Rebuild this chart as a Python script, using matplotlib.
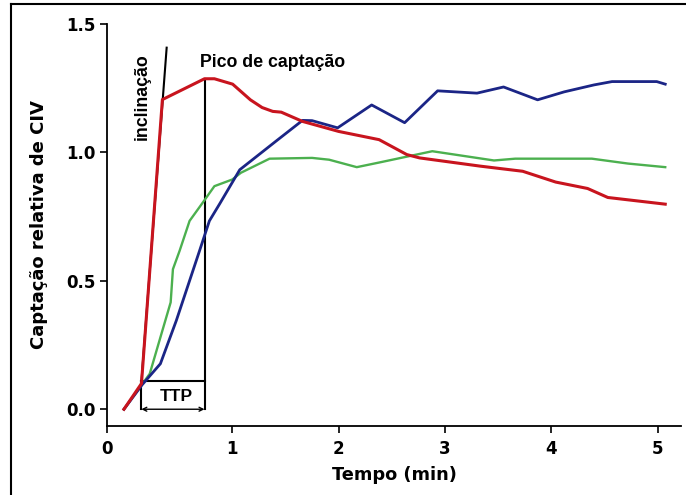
import numpy as np
import matplotlib
matplotlib.use("Agg")
import matplotlib.pyplot as plt
from matplotlib.lines import Line2D

plt.rcParams['font.family'] = ['Liberation Sans', 'DejaVu Sans']

# ---- data ----
red_x = [0.135, 0.275, 0.442, 0.778, 0.857, 1.003, 1.17, 1.28, 1.38, 1.46, 1.66, 2.0, 2.38, 2.64, 2.76, 3.33, 3.73, 4.04, 4.34, 4.53, 5.07]
red_y = [0.0, 0.10, 1.205, 1.286, 1.286, 1.265, 1.204, 1.174, 1.159, 1.156, 1.12, 1.081, 1.049, 0.991, 0.978, 0.946, 0.926, 0.884, 0.859, 0.824, 0.798]

blue_x = [0.135, 0.28, 0.426, 0.553, 0.738, 0.817, 0.90, 1.07, 1.41, 1.66, 1.75, 1.99, 2.31, 2.62, 2.93, 3.30, 3.55, 3.87, 4.12, 4.40, 4.57, 4.99, 5.07]
blue_y = [0.0, 0.095, 0.177, 0.345, 0.616, 0.733, 0.80, 0.932, 1.043, 1.124, 1.123, 1.095, 1.184, 1.115, 1.239, 1.230, 1.254, 1.204, 1.235, 1.262, 1.275, 1.275, 1.265]

green_x = [0.135, 0.341, 0.434, 0.508, 0.526, 0.579, 0.659, 0.764, 0.857, 1.0, 1.08, 1.35, 1.75, 1.91, 2.17, 2.38, 2.88, 3.46, 3.66, 4.38, 4.72, 5.07]
green_y = [0.0, 0.138, 0.293, 0.416, 0.545, 0.616, 0.733, 0.804, 0.868, 0.894, 0.92, 0.975, 0.978, 0.971, 0.942, 0.96, 1.004, 0.968, 0.975, 0.975, 0.956, 0.942]

slope_x = [0.274, 0.476]
slope_y = [0.105, 1.407]
onset_x = 0.274
peak_x = 0.778
peak_y = 1.286
ttp_box_y = 0.108

x_ticks = [0, 1, 2, 3, 4, 5]
x_ticklabels = ["0", "1", "2", "3", "4", "5"]
y_ticks = [0.0, 0.5, 1.0, 1.5]
y_ticklabels = ["0.0", "0.5", "1.0", "1.5"]

# ---- figure ----
fig = plt.figure(figsize=(6.86, 4.95), dpi=100)
ax = fig.add_axes([0.156, 0.139, 0.837, 0.813])

K = 1.178
def fwd(x):
    x = np.asarray(x, dtype=float)
    return np.where(x < 1, x * K, x + (K - 1))
def inv(y):
    y = np.asarray(y, dtype=float)
    return np.where(y < K, y / K, y - (K - 1))
ax.set_xscale('function', functions=(fwd, inv))

ax.plot(green_x, green_y, color='#4cb04f', lw=1.7, solid_joinstyle='round', zorder=3)
ax.plot(blue_x, blue_y, color='#1b2586', lw=2.0, solid_joinstyle='round', zorder=4)
ax.plot(red_x, red_y, color='#c8141e', lw=2.2, solid_joinstyle='round', zorder=5)

# annotation lines
ax.plot(slope_x, slope_y, color='black', lw=1.5, zorder=2)
ax.plot([peak_x, peak_x], [0, peak_y], color='black', lw=1.5, zorder=2)
ax.plot([onset_x, peak_x], [ttp_box_y, ttp_box_y], color='black', lw=1.5, zorder=2)
ax.plot([onset_x, onset_x], [0, ttp_box_y], color='black', lw=1.5, zorder=2)
ax.annotate('', xy=(onset_x, 0.0), xytext=(peak_x, 0.0),
            arrowprops=dict(arrowstyle='<->', lw=1.0, color='black',
                            shrinkA=0, shrinkB=0, mutation_scale=7))

ann_font = ['Liberation Sans', 'DejaVu Sans']
ax.text(0.553, 0.05, 'TTP', fontsize=12.5, fontweight='bold', ha='center', va='center', family=ann_font)
ax.text(0.745, 1.35, 'Pico de captação', fontsize=12.8, fontweight='bold', ha='left', va='center', family=ann_font)
ax.text(0.278, 1.215, 'inclinação', fontsize=12.8, fontweight='bold', ha='center', va='center', rotation=90, family=ann_font)

ax.set_xlim(0, 5.22)
ax.set_ylim(-0.066, 1.5)
ax.set_xticks(x_ticks)
ax.set_xticklabels(x_ticklabels)
ax.set_yticks(y_ticks)
ax.set_yticklabels(y_ticklabels)
ax.minorticks_off()

for s in ['top', 'right']:
    ax.spines[s].set_visible(False)
for s in ['left', 'bottom']:
    ax.spines[s].set_linewidth(1.3)
ax.tick_params(direction='out', length=5, width=1.2, pad=3)
ax.tick_params(axis='x', pad=5)
for lab in ax.get_xticklabels() + ax.get_yticklabels():
    lab.set_fontweight('bold')
    lab.set_family('DejaVu Sans')
    lab.set_fontsize(12)

ax.set_xlabel('Tempo (min)', fontsize=12.8, fontweight='bold', labelpad=6, family='DejaVu Sans')
ax.set_ylabel('Captação relativa de CIV', fontsize=13, fontweight='bold', labelpad=13, family='DejaVu Sans')

# outer frame (left and top edges)
fig.add_artist(Line2D([0.016, 0.016], [0.0, 0.992], transform=fig.transFigure, color='black', lw=1.5))
fig.add_artist(Line2D([0.016, 1.0], [0.992, 0.992], transform=fig.transFigure, color='black', lw=1.5))

fig.savefig('out.png', dpi=100)
